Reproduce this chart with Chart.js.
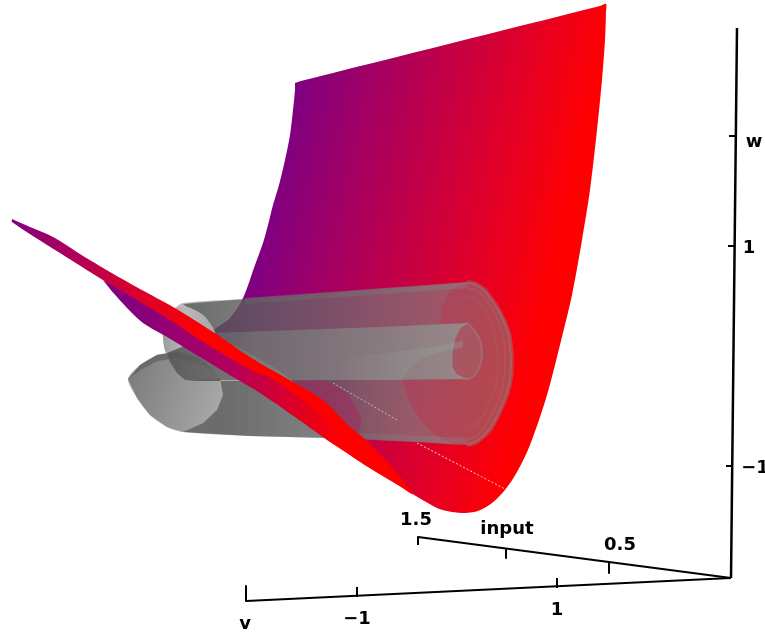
<!DOCTYPE html>
<html>
<head>
<meta charset="utf-8">
<title>surface and tubes</title>
<script src="https://cdn.jsdelivr.net/npm/chart.js@4/dist/chart.umd.min.js"></script>
<style>
  html, body { margin: 0; padding: 0; background: #fff; overflow: hidden; }
  canvas { display: block; }
</style>
</head>
<body>
<canvas id="surfaceChart" width="765" height="633"></canvas>
<script>
// outlines, as [x, y] in picture units
const mainSheet = [[295,83],[301,81],[600,6],[606,4],[606,12],[605,40],[602,80],[597,130],[590,190],[582,240],[572,295],[560,345],[547,395],[530,445],[517,472],[505,490],[492,503],[478,511],[462,513],[447,511],[437,508],[413,494],[373,470],[350,455],[327,435],[293,382],[253,355],[213,333],[230,318],[243,298],[255,265],[263,243],[268,225],[273,205],[279,185],[285,160],[290,135],[293,110],[295,90],[295,83]];

const tubeOutline = [[175,308],[183,303],[245,299],[460,283],[467,282],[476,284],[485,290],[491,298],[498,308],[504,320],[509,333],[511,347],[512,363],[511,378],[508,392],[503,405],[497,418],[490,430],[482,438],[475,443],[467,445],[417,442],[327,438],[250,436],[183,432],[167,427],[150,415],[137,398],[128,379],[140,365],[157,355],[167,352],[163,338],[165,320],[175,308]];
const tubeUpperWall = [[183,304],[245,299],[467,282],[458,286],[450,292],[445,300],[442,307],[440,325],[380,327],[215,333],[213,328],[203,315],[187,307],[183,304]];
const tubeLowerWall = [[185,381],[380,380],[402,380],[406,392],[410,403],[416,413],[423,423],[433,433],[443,440],[456,444],[467,445],[417,442],[327,438],[250,436],[183,432],[203,423],[217,410],[223,395],[220,378],[185,381]];
const innerTube = [[167,353],[215,333],[380,327],[468,323],[460,328],[455,338],[452,353],[452,367],[456,374],[463,378],[468,379],[380,380],[185,380],[177,373],[170,362],[167,353]];
const innerTubeEnd = [[468,323],[474,330],[480,340],[482,353],[481,362],[478,370],[474,376],[468,379],[463,378],[456,374],[452,367],[452,353],[455,338],[460,328],[468,323]];
const innerCore = [[340,356],[380,354],[410,350],[440,346],[463,341],[463,347],[440,352],[423,358],[410,368],[402,380],[340,380],[340,356]];
const upperDisc = [[175,308],[187,307],[203,315],[213,328],[216,338],[200,350],[178,351],[167,354],[163,338],[165,320],[175,308]];
const lowerDisc = [[128,379],[140,365],[157,355],[178,352],[198,360],[212,368],[220,378],[223,395],[217,410],[203,423],[183,432],[167,427],[150,415],[137,398],[128,379]];
const lowerCrescent = [[128,379],[140,365],[157,355],[178,351],[200,358],[216,372],[200,364],[178,358],[158,361],[142,369],[128,379]];
const paleBlob = [[293,382],[325,381],[345,392],[355,405],[361,418],[358,432],[340,422],[323,400],[293,382]];
const sheetLowerBand = [[103,280],[110,289],[117,297],[130,311],[143,323],[167,337],[200,357],[233,377],[260,393],[295,417],[327,440],[350,455],[373,470],[395,483],[413,494],[390,465],[360,435],[320,405],[293,385],[270,370],[255,365],[200,333],[170,314],[103,280]];
const sheetUpperBand = [[12,219],[30,227],[53,237],[80,254],[110,272],[140,289],[173,307],[213,332],[253,359],[293,382],[323,400],[343,420],[363,442],[390,470],[413,493],[437,508],[413,494],[373,465],[347,440],[320,413],[293,393],[270,377],[255,372],[200,340],[170,320],[103,280],[60,253],[12,222],[12,219]];
const tubeRim = [[467,282],[476,284],[485,290],[491,298],[498,308],[504,320],[509,333],[511,347],[512,363],[511,378],[508,392],[503,405],[497,418],[490,430],[482,438],[475,443],[467,445]];
const tubeRingOuter = [[467,288],[475,290],[483,296],[489,304],[495,314],[500,326],[504,340],[505,363],[504,380],[501,394],[496,406],[490,418],[484,428],[476,436],[467,440]];
const tubeRingInner = [[467,296],[473,298],[480,304],[486,312],[491,322],[495,336],[497,350],[498,363],[497,378],[494,392],[489,404],[483,416],[476,424],[467,430]];
const wallTopBand = [[245,301],[467,285]];
const wallBottomBand = [[340,435],[467,441]];
const dottedUpper = [[333,383],[397,420]];
const dottedLower = [[417,443],[507,490]];

// axis lines and ticks
const wAxisLine = [[737,28],[731,578]];
const vAxisLine = [[246,586],[246,601],[731,578]];
const inputAxisLine = [[418,545],[418,537],[731,578]];
const axisTicks = [
  [[729,136],[735,136]], [[728,246],[735,246]], [[726,466],[733,466]],
  [[357,597],[357,587]], [[557,588],[557,578]],
  [[506,550],[506,558]], [[609,563],[609,573]]
];

const tickLabels = ["w", "1", "\u22121", "1.5", "input", "0.5", "v", "\u22121", "1"];
const tickLabelX = [754, 749, 755, 416, 507, 620, 245, 357, 557];
const tickLabelY = [142, 248, 468, 520, 529, 545, 624, 619, 610];

function lineGradient(x0, y0, x1, y1, stops) {
  return function (ctx) {
    const chart = ctx.chart;
    if (!chart.chartArea) return stops[0][1];
    const g = chart.ctx.createLinearGradient(
      chart.scales.x.getPixelForValue(x0), chart.scales.y.getPixelForValue(y0),
      chart.scales.x.getPixelForValue(x1), chart.scales.y.getPixelForValue(y1)
    );
    stops.forEach((s) => g.addColorStop(s[0], s[1]));
    return g;
  };
}

function xGradient(x0, x1, stops) {
  return lineGradient(x0, 0, x1, 0, stops);
}

function shape(points, fillColor, lineColor, lineWidth, extra) {
  return Object.assign({
    data: points.map((p) => ({ x: p[0], y: p[1] })),
    showLine: true,
    pointRadius: 0,
    pointHoverRadius: 0,
    tension: 0,
    clip: false,
    fill: fillColor ? "shape" : false,
    backgroundColor: fillColor || "transparent",
    borderColor: lineColor || "transparent",
    borderWidth: lineWidth || 0,
    borderCapStyle: "butt",
    borderJoinStyle: "round",
  }, extra);
}

const sheetStops = [[0, "#800080"], [0.4, "#b80050"], [0.75, "#e40024"], [1, "#ff0000"]];
const soft = { tension: 0.3 };
const dotted = { borderDash: [2, 2] };

// bottom layer first
const layers = [
  shape(mainSheet, lineGradient(295, 100, 580, 165, sheetStops), null, 0, soft),
  shape(tubeOutline, "rgba(130,130,130,0.55)", null, 0, soft),
  shape(tubeRingInner, null, "rgba(140,145,145,0.12)", 2, soft),
  shape(tubeRingOuter, null, "rgba(140,145,145,0.18)", 2, soft),
  shape(tubeRim, null, "rgba(135,140,140,0.4)", 4, soft),
  shape(wallTopBand, null, "rgba(135,135,135,0.4)", 6),
  shape(wallBottomBand, null, "rgba(135,135,135,0.35)", 6),
  shape(tubeUpperWall, xGradient(200, 450, [[0, "rgba(70,70,70,0.65)"], [0.6, "rgba(95,95,95,0.38)"], [1, "rgba(130,130,130,0.25)"]])),
  shape(upperDisc, xGradient(163, 215, [[0, "#9c9c9c"], [0.4, "#b8b8b8"], [1, "#a8a8a8"]]), null, 0, soft),
  shape(lowerDisc, lineGradient(130, 370, 222, 400, [[0, "#7c7c7c"], [0.5, "#929292"], [1, "#a8a8a8"]]), null, 0),
  shape(lowerCrescent, "rgba(85,85,85,0.55)", null, 0),
  shape(tubeLowerWall, xGradient(225, 440, [[0, "rgba(60,60,60,0.62)"], [0.5, "rgba(85,85,85,0.55)"], [1, "rgba(140,140,140,0.25)"]])),
  shape(innerTube, xGradient(170, 460, [[0, "rgba(85,85,85,0.85)"], [0.3, "rgba(110,110,110,0.85)"], [1, "rgba(145,150,148,0.8)"]])),
  shape(innerCore, xGradient(340, 440, [[0, "rgba(150,155,152,0)"], [1, "rgba(150,155,152,0.45)"]])),
  shape(innerTubeEnd, "rgba(150,130,130,0.25)", "rgba(150,155,152,0.35)", 2, soft),
  shape(paleBlob, "rgba(175,30,95,0.45)", null, 0, soft),
  shape(dottedUpper, null, "rgba(255,255,255,0.55)", 1, dotted),
  shape(dottedLower, null, "rgba(255,255,255,0.8)", 1, dotted),
  shape(sheetLowerBand, xGradient(125, 345, [[0, "#800080"], [0.45, "#b00060"], [0.8, "#e00020"], [1, "#ff0000"]]), null, 0, soft),
  shape(sheetUpperBand, xGradient(12, 205, [[0, "#800080"], [0.5, "#c80040"], [1, "#ff0000"]]), null, 0, soft),
  shape(wAxisLine, null, "#000", 2.5),
  shape(vAxisLine, null, "#000", 2),
  shape(inputAxisLine, null, "#000", 2),
];
axisTicks.forEach((t) => layers.push(shape(t, null, "#000", 2)));
// later entries sit on top
layers.forEach((d, i) => { d.order = layers.length - i; });

const axisText = {
  id: "axisText",
  afterDatasetsDraw(chart) {
    const c = chart.ctx;
    c.save();
    c.fillStyle = "#000";
    c.font = "bold 18px 'DejaVu Sans'";
    c.textAlign = "center";
    c.textBaseline = "middle";
    tickLabels.forEach((label, i) => {
      c.fillText(label, chart.scales.x.getPixelForValue(tickLabelX[i]), chart.scales.y.getPixelForValue(tickLabelY[i]));
    });
    c.restore();
  },
};

new Chart(document.getElementById("surfaceChart"), {
  type: "scatter",
  data: { datasets: layers },
  options: {
    responsive: false,
    animation: false,
    events: [],
    layout: { padding: 0 },
    plugins: { legend: { display: false }, tooltip: { enabled: false } },
    scales: {
      x: { type: "linear", min: 0, max: 765, display: false },
      y: { type: "linear", min: 0, max: 633, reverse: true, display: false },
    },
  },
  plugins: [axisText],
});
</script>
</body>
</html>
